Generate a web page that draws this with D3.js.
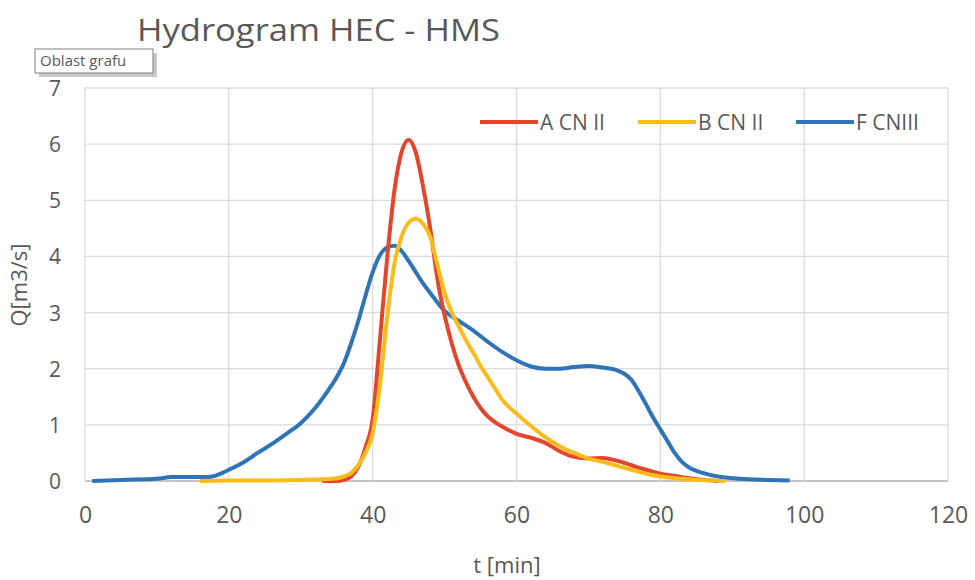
<!DOCTYPE html>
<html>
<head>
<meta charset="utf-8">
<script src="https://cdn.jsdelivr.net/npm/d3@7"></script>
<style>
	body { margin: 0; background: #fff; }
	text { font-family: "Open Sans", sans-serif; fill: #595959; }
</style>
</head>
<body>
<div id="chart"></div>
<script>

// A CN II
var tRed = [33, 35, 36, 37, 38, 39, 40, 41, 42, 43, 44, 45, 46, 47, 48, 49, 50, 51, 52, 53, 54, 55, 56, 57, 58,
			60, 62, 64, 66, 68, 70, 72, 74, 76, 78, 80, 82, 84, 86, 88];
var qRed = [0, 0, 0.02, 0.08, 0.25, 0.6, 1.1, 2.5, 3.95, 5.15, 5.85, 6.08, 5.85, 5.25, 4.5, 3.6, 2.95, 2.45, 2.05, 1.75, 1.5, 1.3, 1.15, 1.05, 0.97,
			0.84, 0.77, 0.68, 0.53, 0.43, 0.4, 0.41, 0.36, 0.28, 0.2, 0.13, 0.09, 0.05, 0.02, 0];

// B CN II
var tYel = [16, 20, 25, 30, 33, 35, 36, 37, 38, 39, 40, 41, 42, 43, 44, 45, 46, 47, 48, 49, 50, 51, 52, 53, 54, 55, 56, 57, 58,
			60, 62, 64, 66, 68, 70, 72, 74, 76, 78, 80, 82, 85, 89];
var qYel = [0, 0.01, 0.01, 0.02, 0.03, 0.05, 0.08, 0.14, 0.28, 0.5, 0.85, 1.7, 2.9, 3.85, 4.35, 4.6, 4.67, 4.58, 4.35, 3.85, 3.35, 3.0, 2.75, 2.5, 2.28, 2.05, 1.85, 1.65, 1.45,
			1.2, 0.98, 0.78, 0.62, 0.5, 0.4, 0.34, 0.27, 0.2, 0.13, 0.08, 0.05, 0.02, 0];

// F CNIII
var tBlue = [1, 5, 10, 12, 17, 18, 20, 22, 24, 26, 28, 30, 32, 34, 35, 36, 37, 38, 39, 40, 41, 42, 43, 44, 45, 46, 47, 48,
			50, 52, 54, 56, 58, 60, 62, 64, 66, 68, 70, 72, 74, 75, 76, 77, 78, 79, 80, 81, 82, 83, 84, 86, 88, 91, 95, 98];
var qBlue = [0, 0.02, 0.04, 0.07, 0.07, 0.09, 0.2, 0.33, 0.5, 0.66, 0.84, 1.03, 1.3, 1.65, 1.85, 2.1, 2.45, 2.85, 3.3, 3.72, 4.02, 4.16, 4.19, 4.1, 3.92, 3.72, 3.52, 3.35,
			3.03, 2.85, 2.68, 2.48, 2.3, 2.15, 2.04, 2.0, 2.0, 2.03, 2.05, 2.02, 1.97, 1.91, 1.8, 1.6, 1.37, 1.13, 0.92, 0.71, 0.5, 0.34, 0.24, 0.14, 0.08, 0.04, 0.02, 0.01];

var seriesNames = ["A CN II", "B CN II", "F CNIII"];
var xTicks = [0, 20, 40, 60, 80, 100, 120];
var yTicks = [0, 1, 2, 3, 4, 5, 6, 7];

function init(){

	var w = 975;
	var h = 580;

	var xScale = d3.scaleLinear()
					.domain([0, 120])
					.range([85, 948]);

	var yScale = d3.scaleLinear()
					.domain([0, 7])
					.range([481, 88]);

	var svg = d3.select("#chart")
				.append("svg")
				.attr("width", w)
				.attr("height", h);

	// grid
	svg.append("g")
		.selectAll("line")
		.data(yTicks)
		.enter()
		.append("line")
		.attr("x1", xScale(0))
		.attr("x2", xScale(120))
		.attr("y1", function(d){ return yScale(d); })
		.attr("y2", function(d){ return yScale(d); })
		.attr("stroke", function(d){ return d == 0 ? "#c9c2c2" : "#dedada"; })
		.attr("stroke-width", function(d){ return d == 0 ? 2 : 1.3; });

	svg.append("g")
		.selectAll("line")
		.data(xTicks)
		.enter()
		.append("line")
		.attr("x1", function(d){ return xScale(d); })
		.attr("x2", function(d){ return xScale(d); })
		.attr("y1", yScale(0))
		.attr("y2", yScale(7))
		.attr("stroke", "#dedada")
		.attr("stroke-width", 1.3);

	// axes (text only, Excel style)
	var xAxis = d3.axisBottom(xScale)
					.tickValues(xTicks)
					.tickFormat(d3.format("d"))
					.tickSize(0)
					.tickPadding(0);

	var gx = svg.append("g")
		.attr("transform", "translate(0, 523)")
		.call(xAxis);
	gx.select(".domain").remove();
	gx.selectAll("text")
		.attr("dy", 0)
		.attr("font-size", 23)
		.attr("fill", "#595959")
		.style("font-family", "'Open Sans', sans-serif");

	var yAxis = d3.axisLeft(yScale)
					.tickValues(yTicks)
					.tickFormat(d3.format("d"))
					.tickSize(0)
					.tickPadding(0);

	var gy = svg.append("g")
		.attr("transform", "translate(61, 0)")
		.call(yAxis);
	gy.select(".domain").remove();
	gy.selectAll("text")
		.attr("dy", "0.36em")
		.attr("font-size", 21)
		.attr("fill", "#595959")
		.style("font-family", "'Open Sans', sans-serif");

	// lines
	var line = d3.line()
				.x(function(d){ return xScale(d[0]); })
				.y(function(d){ return yScale(d[1]); })
				.curve(d3.curveMonotoneX);

	var series = [
		{name: seriesNames[2], t: tBlue, q: qBlue, color: "#2f74b7"},
		{name: seriesNames[0], t: tRed, q: qRed, color: "#e4452d"},
		{name: seriesNames[1], t: tYel, q: qYel, color: "#fbbb1a"}
	];

	svg.selectAll("path.series")
		.data(series)
		.enter()
		.append("path")
		.attr("class", "series")
		.attr("fill", "none")
		.attr("stroke", function(d){ return d.color; })
		.attr("stroke-width", 4)
		.attr("stroke-linejoin", "round")
		.attr("d", function(d){
			return line(d.t.map(function(t, i){ return [t, d.q[i]]; }));
		});

	// legend
	var legend = [
		{name: seriesNames[0], color: "#e4452d", x: 480},
		{name: seriesNames[1], color: "#fbbb1a", x: 638},
		{name: seriesNames[2], color: "#2f74b7", x: 796}
	];

	var lg = svg.selectAll("g.legend")
		.data(legend)
		.enter()
		.append("g")
		.attr("class", "legend")
		.attr("transform", function(d){ return "translate(" + d.x + ", 122)"; });

	lg.append("line")
		.attr("x1", 0)
		.attr("x2", 58)
		.attr("stroke", function(d){ return d.color; })
		.attr("stroke-width", 4);

	lg.append("text")
		.attr("x", 60)
		.attr("y", 8)
		.attr("font-size", 21)
		.text(function(d){ return d.name; });

	// title + axis titles
	svg.append("text")
		.attr("x", 137)
		.attr("y", 41)
		.attr("font-size", 31)
		.attr("textLength", 363)
		.attr("lengthAdjust", "spacingAndGlyphs")
		.text("Hydrogram HEC - HMS");

	svg.append("text")
		.attr("x", 507)
		.attr("y", 573)
		.attr("text-anchor", "middle")
		.attr("font-size", 22)
		.text("t [min]");

	svg.append("text")
		.attr("transform", "translate(27, 285) rotate(-90)")
		.attr("text-anchor", "middle")
		.attr("font-size", 22)
		.text("Q[m3/s]");

	// "Oblast grafu" tooltip
	var tip = svg.append("g")
		.attr("transform", "translate(35, 49)");
	tip.append("rect")
		.attr("x", 4)
		.attr("y", 4)
		.attr("width", 118)
		.attr("height", 24)
		.attr("fill", "#a6a6a6")
		.attr("opacity", 0.6);
	tip.append("rect")
		.attr("width", 118)
		.attr("height", 24)
		.attr("fill", "#fff")
		.attr("stroke", "#808080")
		.attr("stroke-width", 1);
	tip.append("text")
		.attr("x", 5)
		.attr("y", 17)
		.attr("font-size", 15)
		.attr("fill", "#5a5060")
		.text("Oblast grafu");

}

window.onload = init;
</script>
</body>
</html>
